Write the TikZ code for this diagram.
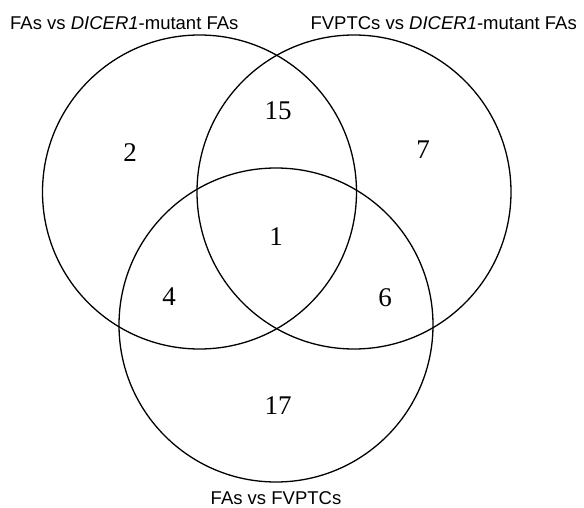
\documentclass[tikz,border=0pt]{standalone}
\usepackage{fontspec}
\setmainfont{Liberation Serif}
\newfontfamily\labelfont{Liberation Sans}
\begin{document}
\begin{tikzpicture}[x=1pt,y=-1pt,
  venn/.style={draw=black,line width=1.3pt},
  setlabel/.style={font=\labelfont\fontsize{18.5}{22}\selectfont,inner sep=0pt},
  count/.style={font=\fontsize{27}{30}\selectfont,inner sep=0pt}]
\useasboundingbox (0,0) rectangle (584,508);
\coordinate (ca) at (199.5,192);
\coordinate (cb) at (354,192);
\coordinate (cc) at (276,325);
\draw[venn] (ca) circle[radius=157];
\draw[venn] (cb) circle[radius=157];
\draw[venn] (cc) circle[radius=157];
\node[setlabel,anchor=west] (la) at (10,23) {FAs vs \textit{DICER1}-mutant FAs};
\node[setlabel,anchor=east] (lb) at (577,23) {FVPTCs vs \textit{DICER1}-mutant FAs};
\node[setlabel] (lc) at (276,498) {FAs vs FVPTCs};
\node[count] (n2) at (130,153) {2};
\node[count] (n15) at (278,111) {15};
\node[count] (n7) at (423,150) {7};
\node[count] (n1) at (276,237) {1};
\node[count] (n4) at (169,297) {4};
\node[count] (n6) at (385,298) {6};
\node[count] (n17) at (278,406) {17};
\end{tikzpicture}
\end{document}
